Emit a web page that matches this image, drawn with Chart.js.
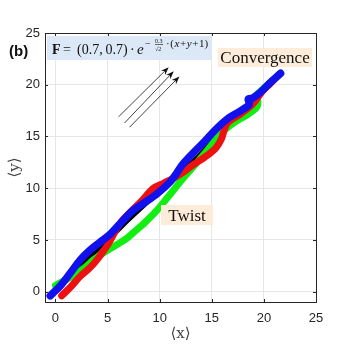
<!DOCTYPE html>
<html>
<head>
<meta charset="utf-8">
<script src="https://cdn.jsdelivr.net/npm/chart.js@4.4.1/dist/chart.umd.min.js"></script>
<style>body{margin:0;background:#fff}</style>
</head>
<body>
<canvas id="myChart" width="349" height="347"></canvas>
<script>
// axis ticks
var tickVals = [0, 5, 10, 15, 20, 25];

// trajectories <x>, <y>
var blackX = [0.0, 1.2, 2.5, 4.0, 5.5, 7.0, 8.5, 10.0, 11.5, 13.3, 15.0, 16.5, 17.8, 19.0, 20.2, 21.5];
var blackY = [0.0, 1.2, 2.5, 4.0, 5.4, 6.9, 8.3, 9.7, 11.0, 12.7, 14.5, 16.0, 17.3, 18.3, 19.6, 21.0];

var redX = [0.6, 1.5, 2.4, 3.3, 4.0, 5.0, 6.2, 7.2, 8.2, 9.4, 10.4, 11.4, 12.2, 13.0, 14.6, 15.4, 15.9, 16.5, 17.8, 19.0, 19.8, 20.6, 21.5];
var redY = [-0.4, 0.5, 1.5, 2.3, 3.1, 4.5, 6.6, 7.7, 8.7, 10.0, 10.5, 11.0, 11.5, 12.1, 13.2, 13.9, 14.7, 16.3, 17.2, 18.2, 19.3, 20.1, 21.0];

var greenX = [0.0, 0.9, 1.8, 2.8, 3.7, 5.0, 6.0, 6.9, 7.7, 8.5, 9.6, 10.6, 11.4, 12.2, 13.0, 14.6, 15.9, 17.1, 18.4, 19.3, 19.4, 19.1, 19.6, 20.5, 21.4];
var greenY = [0.6, 1.1, 1.6, 2.3, 3.1, 4.0, 4.6, 5.2, 5.9, 6.6, 7.7, 8.9, 9.9, 10.9, 11.8, 13.7, 15.3, 16.3, 17.1, 17.8, 18.5, 18.8, 19.3, 20.1, 20.9];

var blueX = [-0.5, 0.5, 1.5, 2.4, 3.3, 4.3, 5.3, 6.5, 7.5, 8.7, 9.8, 11.0, 11.6, 12.2, 13.3, 14.3, 15.2, 16.5, 17.8, 18.6, 18.5, 18.9, 19.7, 20.6, 21.6];
var blueY = [-0.4, 0.6, 1.9, 3.1, 4.0, 4.8, 5.6, 6.9, 7.9, 8.7, 9.5, 10.6, 11.4, 12.3, 13.5, 14.5, 15.5, 16.7, 17.5, 18.1, 18.6, 18.7, 19.3, 20.2, 21.1];

// force direction arrows (tail -> head)
var arrowTails = [[6.06, 16.9], [6.63, 16.3], [7.12, 15.9]];
var arrowHeads = [[10.87, 21.7], [11.35, 21.3], [11.9, 20.8]];

function pts(xs, ys) {
    return xs.map(function (x, i) { return {x: x, y: ys[i]}; });
}

function traj(data, color, width) {
    return {
        data: data,
        showLine: true,
        borderColor: color,
        borderWidth: width,
        pointRadius: 0,
        tension: 0.35,
        borderCapStyle: 'round',
        borderJoinStyle: 'round'
    };
}

var AXIS = '#262626';
var SERIF = '"Liberation Serif"';

var extras = {
    id: 'extras',
    afterDraw: function (chart) {
        var ctx = chart.ctx, a = chart.chartArea;
        var sx = chart.scales.x, sy = chart.scales.y;
        ctx.save();

        // arrows
        ctx.strokeStyle = '#111';
        ctx.fillStyle = '#111';
        ctx.lineWidth = 0.8;
        arrowTails.forEach(function (t, i) {
            var x0 = sx.getPixelForValue(t[0]), y0 = sy.getPixelForValue(t[1]);
            var x1 = sx.getPixelForValue(arrowHeads[i][0]), y1 = sy.getPixelForValue(arrowHeads[i][1]);
            var c = Math.cos(Math.atan2(y1 - y0, x1 - x0)), s = Math.sin(Math.atan2(y1 - y0, x1 - x0));
            ctx.beginPath();
            ctx.moveTo(x0, y0);
            ctx.lineTo(x1 - 5 * c, y1 - 5 * s);
            ctx.stroke();
            ctx.beginPath();
            ctx.moveTo(x1, y1);
            ctx.lineTo(x1 - 8 * c + 3 * s, y1 - 8 * s - 3 * c);
            ctx.lineTo(x1 - 5.5 * c, y1 - 5.5 * s);
            ctx.lineTo(x1 - 8 * c - 3 * s, y1 - 8 * s + 3 * c);
            ctx.closePath();
            ctx.fill();
        });

        // box and inward ticks
        ctx.strokeStyle = AXIS;
        ctx.lineWidth = 1;
        ctx.strokeRect(Math.round(a.left) + 0.5, Math.round(a.top) + 0.5, Math.round(a.right - a.left), Math.round(a.bottom - a.top));
        ctx.beginPath();
        tickVals.forEach(function (v) {
            var px = Math.round(sx.getPixelForValue(v)) + 0.5;
            ctx.moveTo(px, a.bottom); ctx.lineTo(px, a.bottom - 3);
            ctx.moveTo(px, a.top); ctx.lineTo(px, a.top + 3);
            var py = Math.round(sy.getPixelForValue(v)) + 0.5;
            ctx.moveTo(a.left, py); ctx.lineTo(a.left + 3, py);
            ctx.moveTo(a.right, py); ctx.lineTo(a.right - 3, py);
        });
        ctx.stroke();

        // equation box
        ctx.fillStyle = '#dce8f6';
        ctx.fillRect(47, 36, 165, 24);
        ctx.fillStyle = '#111';
        ctx.textBaseline = 'alphabetic';
        ctx.textAlign = 'left';
        var base = 54;
        ctx.font = 'bold 14px ' + SERIF;
        ctx.fillText('F', 52, base);
        ctx.font = '14px ' + SERIF;
        ctx.fillText('=', 63, base);
        ctx.fillText('(0.7,\u20090.7)', 77, base);
        ctx.fillText('\u00b7', 130, base);
        ctx.font = 'italic 15px ' + SERIF;
        ctx.fillText('e', 137, base);
        ctx.font = '10px ' + SERIF;
        ctx.fillText('\u2212', 145, base - 7);
        ctx.font = '6px ' + SERIF;
        ctx.fillText('0.3', 155, base - 11);
        ctx.fillRect(155, base - 9.6, 8, 0.6);
        ctx.fillText('\u221a2', 155, base - 3);
        var x = 166;
        var parts = [['\u00b7', ''], ['(', ''], ['x', 'italic '], ['+', ''], ['y', 'italic '], ['+', ''], ['1)', '']];
        parts.forEach(function (p) {
            ctx.font = p[1] + '11px ' + SERIF;
            ctx.fillText(p[0], x, base - 7);
            x += ctx.measureText(p[0]).width + 0.6;
        });

        // labels with beige boxes
        ctx.fillStyle = '#fcecd9';
        ctx.fillRect(218, 48, 94, 19);
        ctx.fillRect(161, 205, 52, 20);
        ctx.fillStyle = '#111';
        ctx.font = '17px ' + SERIF;
        ctx.textAlign = 'center';
        ctx.textBaseline = 'alphabetic';
        ctx.fillText('Convergence', 265, 63);
        ctx.fillText('Twist', 187, 221);

        // panel label
        ctx.font = 'bold 15px "Liberation Sans"';
        ctx.textAlign = 'left';
        ctx.textBaseline = 'middle';
        ctx.fillText('(b)', 9, 52);

        // axis titles
        ctx.fillStyle = '#444';
        ctx.font = '15px "DejaVu Serif"';
        ctx.textAlign = 'center';
        ctx.fillText('\u27e8x\u27e9', (a.left + a.right) / 2, 334);
        ctx.translate(15, (a.top + a.bottom) / 2);
        ctx.rotate(-Math.PI / 2);
        ctx.fillText('\u27e8y\u27e9', 0, 0);
        ctx.restore();
    }
};

function axis(pos) {
    return {
        type: 'linear',
        position: pos,
        min: -1,
        max: 25,
        afterBuildTicks: function (s) {
            s.ticks = tickVals.map(function (v) { return {value: v}; });
        },
        afterFit: function (s) {
            if (pos === 'left') s.width = 45; else s.height = 45;
        },
        grid: { color: '#e6e6e6', drawTicks: false },
        border: { display: false },
        ticks: {
            color: AXIS,
            padding: pos === 'left' ? 5 : 9,
            font: { family: '"Liberation Sans", Arial', size: 13 }
        }
    };
}

var ctx = document.getElementById('myChart').getContext('2d');
var myChart = new Chart(ctx, {
    type: 'scatter',
    data: {
        // first dataset is drawn on top
        datasets: [
            traj(pts(blueX, blueY), '#1111ee', 7.5),
            traj(pts(redX, redY), '#ee1111', 7),
            traj(pts(greenX, greenY), '#11ee11', 7),
            traj(pts(blackX, blackY), '#000000', 4)
        ]
    },
    options: {
        responsive: false,
        animation: false,
        layout: { padding: { left: 0, top: 33, right: 33, bottom: 0 } },
        plugins: { legend: { display: false }, tooltip: { enabled: false } },
        scales: { x: axis('bottom'), y: axis('left') }
    },
    plugins: [extras]
});
</script>
</body>
</html>
